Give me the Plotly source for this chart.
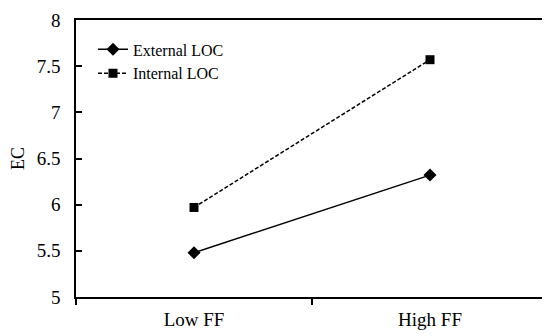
import plotly.graph_objects as go

categories = ["Low FF", "High FF"]
external_loc = [5.48, 6.32]
internal_loc = [5.97, 7.57]
y_ticks = [5, 5.5, 6, 6.5, 7, 7.5, 8]
y_tick_text = ["5", "5.5", "6", "6.5", "7", "7.5", "8"]

FONT = "Liberation Serif"

fig = go.Figure()
fig.add_trace(go.Scatter(
    x=categories, y=external_loc, name="External LOC", mode="lines+markers",
    line=dict(color="black", width=1.5),
    marker=dict(symbol="diamond", size=10, color="black"),
))
fig.add_trace(go.Scatter(
    x=categories, y=internal_loc, name="Internal LOC", mode="lines+markers",
    line=dict(color="black", width=1.5, dash="4px,2px"),
    marker=dict(symbol="square", size=9, color="black"),
))

fig.update_layout(
    width=550, height=336,
    margin=dict(l=68, r=10, t=12, b=47),
    paper_bgcolor="white", plot_bgcolor="white",
    font=dict(family=FONT, size=19, color="black"),
    showlegend=True,
    legend=dict(
        x=0.036, y=0.955, xanchor="left", yanchor="top",
        bgcolor="rgba(0,0,0,0)", font=dict(family=FONT, size=16, color="black"),
        tracegroupgap=0, itemwidth=30,
    ),
    xaxis=dict(
        type="category", range=[-0.5, 1.5], tickson="boundaries",
        ticks="outside", ticklen=6, tickwidth=1.5, tickcolor="black",
        showline=True, linecolor="black", linewidth=1.5, mirror=True,
        showgrid=False, zeroline=False, automargin=False,
        ticklabelstandoff=4, ticklabeloverflow="allow",
        tickfont=dict(family=FONT, size=19, color="black"),
    ),
    yaxis=dict(
        range=[5, 8], tickvals=y_ticks, ticktext=y_tick_text,
        ticks="inside", ticklen=6, tickwidth=1.5, tickcolor="black",
        showline=True, linecolor="black", linewidth=1.5, mirror=True,
        showgrid=False, zeroline=False, automargin=False,
        ticklabelstandoff=10, ticklabeloverflow="allow",
        tickfont=dict(family=FONT, size=19, color="black"),
        title=dict(text="EC", font=dict(family=FONT, size=18, color="black"), standoff=14),
    ),
)

fig.write_html("out.html")
